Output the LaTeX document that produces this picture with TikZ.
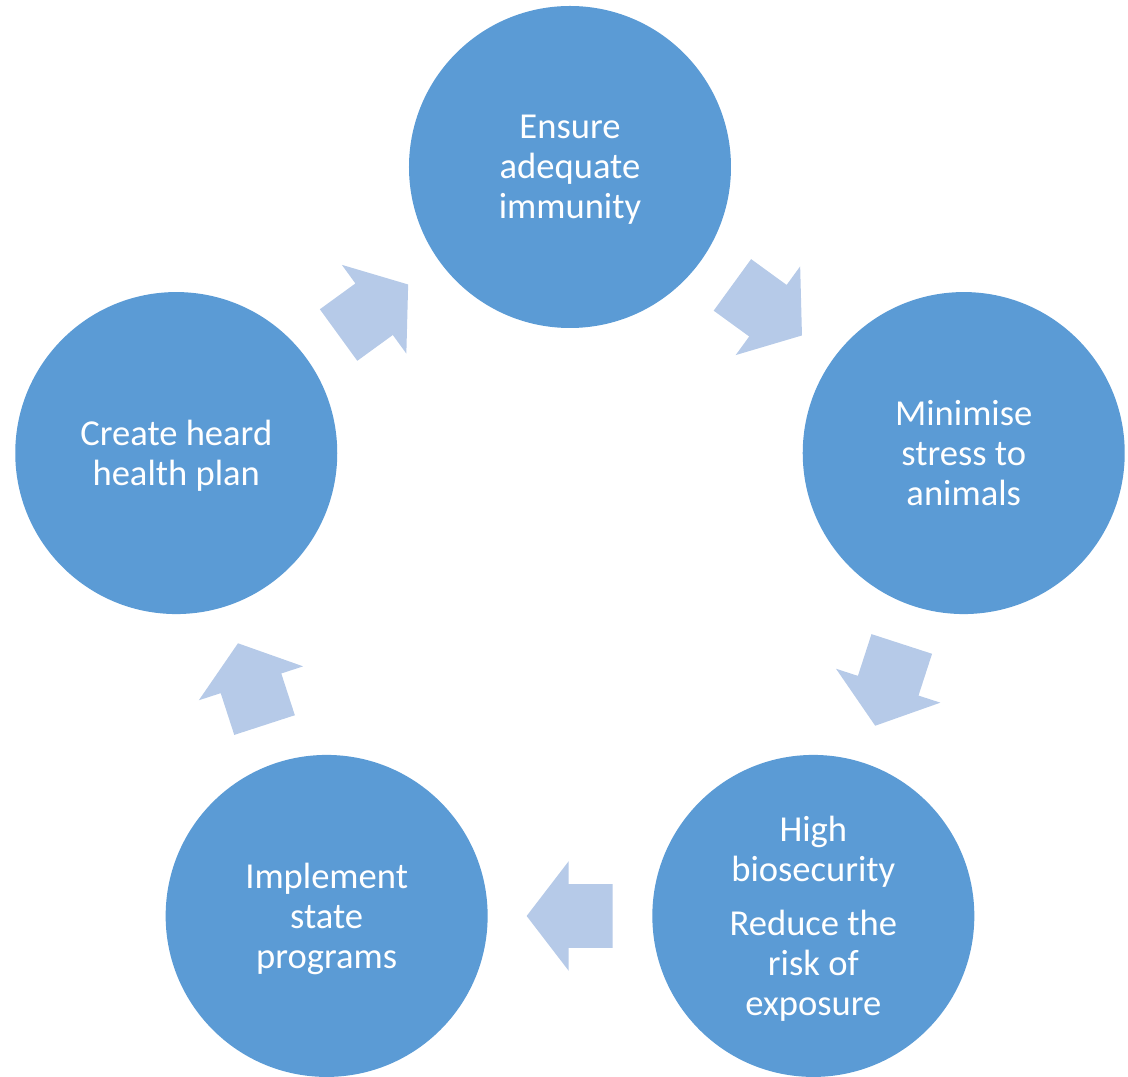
\documentclass[tikz,border=0pt]{standalone}
\usepackage{fontspec}
\setmainfont{Carlito}
\usepackage{xcolor}
\usepackage{tikz}
\usetikzlibrary{shapes.arrows, positioning, calc}
\definecolor{cyclecircle}{RGB}{91, 155, 213}
\definecolor{cyclearrow}{RGB}{182, 202, 232}

\begin{document}
\begin{tikzpicture}[
    stage/.style={circle, fill=cyclecircle, draw=none, minimum size=6.44cm,
                  inner sep=0pt, align=center, text=white, text depth=0pt,
                  font=\fontsize{20.8}{22.8}\selectfont},
    flow/.style={single arrow, fill=cyclearrow, draw=none, anchor=tail,
                 inner xsep=0pt, inner ysep=0.63cm, minimum height=1.72cm,
                 single arrow head extend=0.46cm, single arrow tip angle=105},
]
\useasboundingbox (-11.4,-9.92) rectangle (11.16,11.62);

% Stages of the cycle
\node[stage] (immunity) at (90:8.28) {Ensure\\adequate\\immunity};
\node[stage] (stress) at (18:8.28) {Minimise\\stress to\\animals};
\node[stage] (biosec) at (-54:8.28)
    {High\\biosecurity\\[0.28cm]Reduce the\\risk of\\exposure};
\node[stage] (programs) at (-126:8.28) {Implement\\state\\programs};
\node[stage] (plan) at (162:8.28) {Create heard\\health plan};

% Block arrows between stages
\node[flow, rotate=-36] (immunity-stress) at ($(54:6.7)+(144:0.86)$) {};
\node[flow, rotate=-108] (stress-biosec) at ($(-18:6.7)+(72:0.86)$) {};
\node[flow, rotate=180] (biosec-programs) at ($(-90:6.7)+(0:0.86)$) {};
\node[flow, rotate=108] (programs-plan) at ($(-162:6.7)+(-72:0.86)$) {};
\node[flow, rotate=36] (plan-immunity) at ($(126:6.7)+(-144:0.86)$) {};

\end{tikzpicture}
\end{document}
